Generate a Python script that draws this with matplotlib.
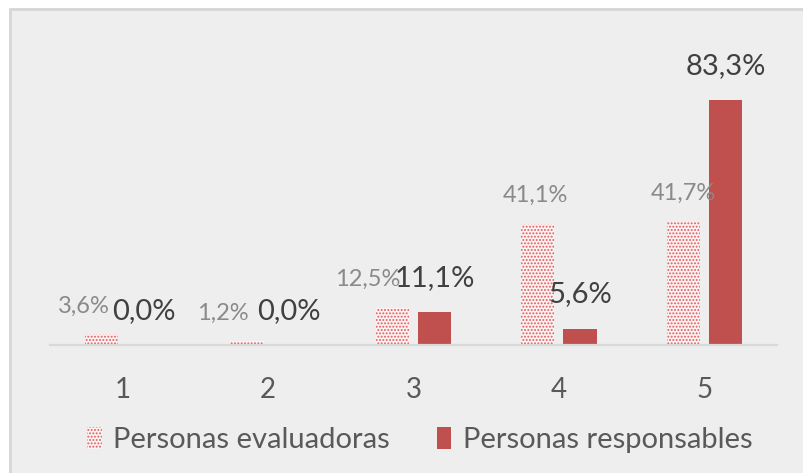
import matplotlib
matplotlib.use("Agg")
import matplotlib.pyplot as plt
from matplotlib.patches import Rectangle
import numpy as np

plt.rcParams['font.family'] = ['Lato', 'DejaVu Sans']
plt.rcParams['hatch.linewidth'] = 0.9

categories = ["1", "2", "3", "4", "5"]
evaluadoras = [3.6, 1.2, 12.5, 41.1, 41.7]
responsables = [0.0, 0.0, 11.1, 5.6, 83.3]
series_names = ["Personas evaluadoras", "Personas responsables"]
eval_labels = ["3,6%", "1,2%", "12,5%", "41,1%", "41,7%"]
resp_labels = ["0,0%", "0,0%", "11,1%", "5,6%", "83,3%"]
eval_label_dx = [-18, -24, -25, -2, 0]  # pixel offsets (Excel label placement)

W, H = 804, 473
fig = plt.figure(figsize=(W / 100, H / 100), dpi=100)
fig.patch.set_facecolor('white')
fig.patches.append(Rectangle((10 / W, -0.05), 1.0, (H - 9) / H + 0.05,
                             transform=fig.transFigure, facecolor='#eeeeee',
                             edgecolor='#d6d6d6', linewidth=2, zorder=-10))

ax = fig.add_axes([50 / W, (H - 345) / H, 727 / W, 265 / H])
ax.set_facecolor('none')
ax.set_zorder(1)

x = np.arange(1, len(categories) + 1)
bw = 0.228
off = 0.145

b1 = ax.bar(x - off, evaluadoras, bw, facecolor='#fdf1f1', edgecolor='#dc5a5c',
            hatch='.....', linewidth=0, label=series_names[0])
b2 = ax.bar(x + off, responsables, bw, color='#c0504d', label=series_names[1])

for xi, v, t, dx in zip(x - off, evaluadoras, eval_labels, eval_label_dx):
    ax.annotate(t, (xi, v), xytext=(dx, 22), textcoords='offset pixels',
                ha='center', va='baseline', fontsize=17, color='#8a8a8a')
for xi, v, t in zip(x + off, responsables, resp_labels):
    ax.annotate(t, (xi, v), xytext=(0, 26), textcoords='offset pixels',
                ha='center', va='baseline', fontsize=21, color='#404040')

ax.set_xlim(0.5, 5.5)
ax.set_ylim(0, 90)
ax.set_xticks(x)
ax.set_xticklabels(categories, fontsize=20, color='#595959')
ax.tick_params(axis='x', length=0, pad=23)
ax.set_yticks([])
for s in ['top', 'right', 'left']:
    ax.spines[s].set_visible(False)
ax.spines['bottom'].set_color('#d9d9d9')
ax.spines['bottom'].set_linewidth(1.6)

leg = fig.legend(handles=[b1, b2], loc='center', bbox_to_anchor=(420 / W, 1 - 440 / H),
                 ncol=2, frameon=False, fontsize=21, labelcolor='#595959',
                 handlelength=0.5, handleheight=0.8, handletextpad=0.4, columnspacing=1.6)

fig.savefig('out.png', dpi=100, facecolor=fig.get_facecolor())
